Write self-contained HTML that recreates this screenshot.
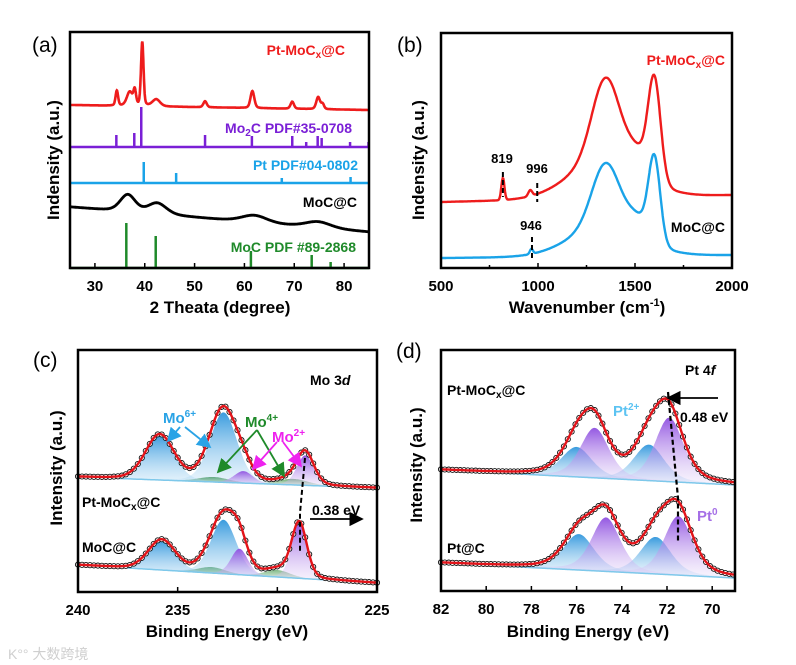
<!DOCTYPE html>
<html><head><meta charset="utf-8"><style>
html,body{margin:0;padding:0;background:#fff;}
svg{display:block;font-family:"Liberation Sans","Noto Sans CJK SC",sans-serif;}
</style></head><body>
<svg id="fig" width="796" height="665" viewBox="0 0 796 665">
<defs>
 <linearGradient id="gBlue" x1="0" y1="0" x2="0" y2="1"><stop offset="0" stop-color="#2f96dc" stop-opacity="0.95"/><stop offset="1" stop-color="#bfe1f7" stop-opacity="0.25"/></linearGradient>
 <linearGradient id="gPurp" x1="0" y1="0" x2="0" y2="1"><stop offset="0" stop-color="#8e4fe0" stop-opacity="0.95"/><stop offset="1" stop-color="#e3d3f7" stop-opacity="0.25"/></linearGradient>
 <linearGradient id="gGreen" x1="0" y1="0" x2="0" y2="1"><stop offset="0" stop-color="#2f8a3a" stop-opacity="0.95"/><stop offset="1" stop-color="#cfe8d2" stop-opacity="0.3"/></linearGradient>
 <marker id="arK" markerWidth="8" markerHeight="8" refX="7" refY="4" orient="auto"><path d="M0,0 L8,4 L0,8 z" fill="#000"/></marker>
 <marker id="arB" markerWidth="8" markerHeight="8" refX="7" refY="4" orient="auto"><path d="M0,0 L8,4 L0,8 z" fill="#2aa3e6"/></marker>
 <marker id="arG" markerWidth="8" markerHeight="8" refX="7" refY="4" orient="auto"><path d="M0,0 L8,4 L0,8 z" fill="#1f8a2a"/></marker>
 <marker id="arM" markerWidth="8" markerHeight="8" refX="7" refY="4" orient="auto"><path d="M0,0 L8,4 L0,8 z" fill="#ee22ee"/></marker>
</defs>
<g id="layer"></g>
</svg>
<script>
// ---------- Panel (a) XRD data ----------
const aTicks = [30,40,50,60,70,80];
const aRedBase = [163,158];
const aRedPeaks = [[34.4,15,0.3],[37,14,0.7],[38,14,0.3],[39.5,64,0.3],[42.3,7,0.9],[52.1,6,0.4],[61.6,17,0.45],[69.6,7,0.4],[74.8,12,0.45],[75.7,5,0.35]];
const aBlackBase = [61,36];
const aBlackPeaks = [[36.6,17,1.8],[42.5,11,2.2],[62,7,3],[74.8,6,3]];
const aMo2CPos = [34.3,37.9,39.3,52.1,61.5,69.6,72.4,74.7,75.5,81.2,84.9];
const aMo2CH = [12,14,40,12,11,11,5,11,9,5,5];
const aPtPos = [39.8,46.3,67.5,81.3];
const aPtH = [21,10,5,6];
const aMoCPos = [36.3,42.2,61.3,73.5,77.3];
const aMoCH = [45,32,17,13,6];
// ---------- Panel (b) Raman data ----------
const bTicks = [500,1000,1500,2000];
const bRedBase = [66,73];
const bRedPeaks = [[1350,80,70],[1600,98,32],[1350,40,180],[1520,20,60],[819,22,8],[960,6,10]];
const bBlueBase = [10,13];
const bBluePeaks = [[1350,62,70],[1600,82,30],[1350,31,180],[1520,18,60],[966,5,8]];
// ---------- Panel (c) Mo 3d ----------
const cTicks = [240,235,230,225];
const cTopBg = [115,104];
const cTopMo6 = [[235.9,45,0.85],[232.7,70,0.8]];
const cTopMo4 = [[233.2,5,0.9],[229.2,6,0.9]];
const cTopMo2 = [[231.7,12,0.55],[228.6,30,0.5]];
const cBotBg = [27,9];
const cBotMo6 = [[235.8,30,0.8],[232.7,54,0.75]];
const cBotMo4 = [[233.3,6,0.8],[230.0,7,0.75]];
const cBotMo2 = [[231.9,26,0.5],[228.9,55,0.45]];
// ---------- Panel (d) Pt 4f ----------
const dTicks = [82,80,78,76,74,72,70];
const dTopBg = [121,106];
const dTopPt2 = [[76.0,30,0.8],[72.8,36,0.8]];
const dTopPt0 = [[75.2,50,0.75],[71.9,64,0.75]];
const dBotBg = [28,13];
const dBotPt2 = [[75.9,36,0.8],[72.5,37,0.8]];
const dBotPt0 = [[74.7,54,0.75],[71.5,59,0.75]];

const NS = "http://www.w3.org/2000/svg";
const layer = document.getElementById('layer');
function mk(tag, attrs, parent){ const e=document.createElementNS(NS,tag); for(const k in attrs) e.setAttribute(k,attrs[k]); (parent||layer).appendChild(e); return e; }
function pv(x,c,h,g,eta){ const d=(x-c)/g; return h*(eta/(1+d*d)+(1-eta)*Math.exp(-Math.LN2*d*d)); }
function gs(x,c,h,s){ const d=(x-c)/s; return h*Math.exp(-0.5*d*d); }
function lin(x,x0,x1,v){ return v[0]+(v[1]-v[0])*(x-x0)/(x1-x0); }
function pathOf(pts){ return pts.map((p,i)=>(i?'L':'M')+p[0].toFixed(1)+','+p[1].toFixed(1)).join(''); }
function txt(x,y,s,attrs,name){ const t=mk('text',Object.assign({x:x,y:y},attrs)); t.innerHTML=s;   return t; }
function frame(x0,y0,x1,y1,name){ const r=mk('rect',{x:x0,y:y0,width:x1-x0,height:y1-y0,fill:'none',stroke:'#000','stroke-width':2.5});   }
function xTicks(ticks,xs,yb,name){ const g=mk('g',{});  
  ticks.forEach(t=>{ mk('line',{x1:xs(t),x2:xs(t),y1:yb,y2:yb-5,stroke:'#000','stroke-width':1.5},g);
    const e=mk('text',{x:xs(t),y:yb+23,'text-anchor':'middle','font-size':15,'font-weight':'bold'},g); e.textContent=t;
      }); }

// ===== Panel (a) =====
(function(){
 const X=v=>70+(v-25)/60*299, Y=v=>268-v;
 const g=mk('g',{});  
 const red=[],blk=[];
 for(let x=25;x<=85.001;x+=0.05){ let v=lin(x,25,85,aRedBase); aRedPeaks.forEach(p=>v+=pv(x,p[0],p[1],p[2],0.3)); red.push([X(x),Y(v)]);
   let w=lin(x,25,85,aBlackBase); aBlackPeaks.forEach(p=>w+=pv(x,p[0],p[1],p[2],0.3)); blk.push([X(x),Y(w)]); }
 const r=mk('path',{d:pathOf(red),fill:'none',stroke:'#ee1c1c','stroke-width':2.6},g);  
 const b=mk('path',{d:pathOf(blk),fill:'none',stroke:'#000','stroke-width':2.8},g);  
 function sticks(pos,h,base,col,name){ const l=mk('line',{x1:X(25),x2:X(85),y1:base,y2:base,stroke:col,'stroke-width':2.5},g);  
   pos.forEach((p,i)=>{ const s=mk('line',{x1:X(p),x2:X(p),y1:base,y2:base-h[i],stroke:col,'stroke-width':2.5},g);   }); }
 sticks(aMo2CPos,aMo2CH,147,'#7a1fd6','mo2c-ref');
 sticks(aPtPos,aPtH,183,'#1aa3e8','pt-ref');
 sticks(aMoCPos,aMoCH,268,'#1f8a2a','moc-ref');
 frame(70,32,369,268,'panel-a-frame');
 xTicks(aTicks,X,268,'panel-a-x-axis');
 txt(220,313,'2 Theata (degree)',{'text-anchor':'middle','font-size':17,'font-weight':'bold'},'x-axis-title-a');
 txt(59,160,'Indensity (a.u.)',{'text-anchor':'middle','font-size':17,'font-weight':'bold',transform:'rotate(-90 59 160)'},'y-axis-title-a');
 txt(32,52,'(a)',{'font-size':21},'panel-label-a');
 txt(345,55,'Pt-MoC<tspan font-size="10" dy="3">x</tspan><tspan dy="-3">@C</tspan>',{'text-anchor':'end','font-size':14,'font-weight':'bold',fill:'#ee1c1c'},'legend-pt-moc');
 txt(352,133,'Mo<tspan font-size="10" dy="3">2</tspan><tspan dy="-3">C PDF#35-0708</tspan>',{'text-anchor':'end','font-size':14,'font-weight':'bold',fill:'#7a1fd6'},'legend-mo2c-ref');
 txt(358,170,'Pt PDF#04-0802',{'text-anchor':'end','font-size':14,'font-weight':'bold',fill:'#1aa3e8'},'legend-pt-ref');
 txt(357,207,'MoC@C',{'text-anchor':'end','font-size':14,'font-weight':'bold',fill:'#000'},'legend-moc');
 txt(356,252,'MoC PDF #89-2868',{'text-anchor':'end','font-size':14,'font-weight':'bold',fill:'#1f8a2a'},'legend-moc-ref');
})();

// ===== Panel (b) =====
(function(){
 const X=v=>441+(v-500)/1500*291, Y=v=>268-v;
 const g=mk('g',{});  
 const red=[],blu=[];
 for(let x=500;x<=2000;x+=3){ let v=lin(x,500,2000,bRedBase); bRedPeaks.forEach(p=>v+=gs(x,p[0],p[1],p[2])); red.push([X(x),Y(v)]);
  let w=lin(x,500,2000,bBlueBase); bBluePeaks.forEach(p=>w+=gs(x,p[0],p[1],p[2])); blu.push([X(x),Y(w)]); }
 const r=mk('path',{d:pathOf(red),fill:'none',stroke:'#ee1c1c','stroke-width':2.4},g);  
 const b=mk('path',{d:pathOf(blu),fill:'none',stroke:'#1aa3e8','stroke-width':2.4},g);  
 [[819,172,197],[996,183,202],[969,237,260]].forEach(d=>{ const l=mk('line',{x1:X(d[0]),x2:X(d[0]),y1:d[1],y2:d[2],stroke:'#000','stroke-width':2,'stroke-dasharray':'5,3'},g);   });
 frame(441,33,732,268,'panel-b-frame');
 [750,1250,1750].forEach(t=>mk('line',{x1:X(t),x2:X(t),y1:268,y2:265,stroke:'#000','stroke-width':1.5},g));
 xTicks(bTicks,X,268,'panel-b-x-axis');
 txt(587,313,'Wavenumber (cm<tspan font-size="11" dy="-7">-1</tspan><tspan dy="7">)</tspan>',{'text-anchor':'middle','font-size':17,'font-weight':'bold'},'x-axis-title-b');
 txt(424,160,'Indensity (a.u.)',{'text-anchor':'middle','font-size':17,'font-weight':'bold',transform:'rotate(-90 424 160)'},'y-axis-title-b');
 txt(397,52,'(b)',{'font-size':21},'panel-label-b');
 txt(502,163,'819',{'text-anchor':'middle','font-size':13,'font-weight':'bold'},'label-819');
 txt(537,173,'996',{'text-anchor':'middle','font-size':13,'font-weight':'bold'},'label-996');
 txt(531,230,'946',{'text-anchor':'middle','font-size':13,'font-weight':'bold'},'label-946');
 txt(725,65,'Pt-MoC<tspan font-size="10" dy="3">x</tspan><tspan dy="-3">@C</tspan>',{'text-anchor':'end','font-size':14,'font-weight':'bold',fill:'#ee1c1c'},'legend-pt-moc-b');
 txt(725,232,'MoC@C',{'text-anchor':'end','font-size':14,'font-weight':'bold'},'legend-moc-b');
})();

// ===== XPS generic =====
function xps(g,X,Y,e0,e1,bg,groups,eta,step,name){
 const N=300, base=e=>lin(e,e0,e1,bg);
 groups.forEach(gr=>gr.peaks.forEach(p=>{ const top=[],bot=[];
   for(let i=0;i<=N;i++){ const e=e0+(e1-e0)*i/N; const b=base(e); top.push([X(e),Y(b+pv(e,p[0],p[1],p[2],eta))]); bot.push([X(e),Y(b)]); }
   const poly=mk('path',{d:pathOf(top)+'L'+bot.reverse().map(q=>q[0].toFixed(1)+','+q[1].toFixed(1)).join('L')+'Z',fill:gr.fill,stroke:'none'},g);
     }));
 const bl=[]; for(let i=0;i<=N;i++){ const e=e0+(e1-e0)*i/N; bl.push([X(e),Y(base(e))]); }
 const bll=mk('path',{d:pathOf(bl),fill:'none',stroke:'#7ec8ea','stroke-width':1.5},g);  
 const env=e=>{ let v=base(e); groups.forEach(gr=>gr.peaks.forEach(p=>v+=pv(e,p[0],p[1],p[2],eta))); return v; };
 const ep=[]; for(let i=0;i<=N;i++){ const e=e0+(e1-e0)*i/N; ep.push([X(e),Y(env(e))]); }
 const ds=mk('g',{},g);  
 const dir=e1>e0?1:-1;
 for(let e=e0; dir*(e1-e)>=0; e+=dir*step){ mk('circle',{cx:X(e).toFixed(1),cy:Y(env(e)).toFixed(1),r:2.6,fill:'#fff',stroke:'#111','stroke-width':0.9},ds); }
 const el=mk('path',{d:pathOf(ep),fill:'none',stroke:'#e3141a','stroke-width':2.4},g);  
}

// ===== Panel (c) =====
(function(){
 const X=e=>78+(240-e)/15*299, Y=v=>592-v;
 const g=mk('g',{});  
 xps(g,X,Y,240,225,cTopBg,[{name:'mo4',peaks:cTopMo4,fill:'url(#gGreen)'},{name:'mo6',peaks:cTopMo6,fill:'url(#gBlue)'},{name:'mo2',peaks:cTopMo2,fill:'url(#gPurp)'}],0.2,0.2,'pt-moc-mo3d');
 xps(g,X,Y,240,225,cBotBg,[{name:'mo4',peaks:cBotMo4,fill:'url(#gGreen)'},{name:'mo6',peaks:cBotMo6,fill:'url(#gBlue)'},{name:'mo2',peaks:cBotMo2,fill:'url(#gPurp)'}],0.2,0.2,'moc-mo3d');
 frame(78,350,377,592,'panel-c-frame');
 xTicks(cTicks,X,592,'panel-c-x-axis');
 const a=(x1,y1,x2,y2,c,m)=>{ const l=mk('line',{x1,y1,x2,y2,stroke:c,'stroke-width':1.8,'marker-end':'url(#'+m+')'},g);   };
 a(180,427,168,441,'#2aa3e6','arB'); a(185,427,210,447,'#2aa3e6','arB');
 a(257,430,218,472,'#1f8a2a','arG'); a(257,430,284,476,'#1f8a2a','arG');
 a(277,442,253,469,'#ee22ee','arM'); a(283,442,301,466,'#ee22ee','arM');
 a(310,519,362,519,'#000','arK');
 const dl=mk('path',{d:'M305,458 L300,513 L300,553',fill:'none',stroke:'#000','stroke-width':2,'stroke-dasharray':'5,3'},g);  
 txt(227,637,'Binding Energy (eV)',{'text-anchor':'middle','font-size':17,'font-weight':'bold'},'x-axis-title-c');
 txt(62,468,'Intensity (a.u.)',{'text-anchor':'middle','font-size':17,'font-weight':'bold',transform:'rotate(-90 62 468)'},'y-axis-title-c');
 txt(33,367,'(c)',{'font-size':21},'panel-label-c');
 txt(310,385,'Mo 3<tspan font-style="italic">d</tspan>',{'font-size':14,'font-weight':'bold'},'core-level-label-c');
 txt(163,423,'Mo<tspan font-size="10" dy="-6">6+</tspan>',{'font-size':15,'font-weight':'bold',fill:'#2aa3e6'},'mo6-label');
 txt(245,427,'Mo<tspan font-size="10" dy="-6">4+</tspan>',{'font-size':15,'font-weight':'bold',fill:'#1f8a2a'},'mo4-label');
 txt(272,442,'Mo<tspan font-size="10" dy="-6">2+</tspan>',{'font-size':15,'font-weight':'bold',fill:'#ee22ee'},'mo2-label');
 txt(82,507,'Pt-MoC<tspan font-size="10" dy="3">x</tspan><tspan dy="-3">@C</tspan>',{'font-size':14,'font-weight':'bold'},'sample-label-pt-moc-c');
 txt(82,552,'MoC@C',{'font-size':14,'font-weight':'bold'},'sample-label-moc-c');
 txt(312,515,'0.38 eV',{'font-size':14,'font-weight':'bold'},'shift-label-c');
})();

// ===== Panel (d) =====
(function(){
 const X=e=>441+(82-e)*22.6, Y=v=>591-v;
 const g=mk('g',{});  
 xps(g,X,Y,82,69,dTopBg,[{name:'pt2',peaks:dTopPt2,fill:'url(#gBlue)'},{name:'pt0',peaks:dTopPt0,fill:'url(#gPurp)'}],0.4,0.17,'pt-moc-pt4f');
 xps(g,X,Y,82,69,dBotBg,[{name:'pt2',peaks:dBotPt2,fill:'url(#gBlue)'},{name:'pt0',peaks:dBotPt0,fill:'url(#gPurp)'}],0.4,0.17,'pt-c-pt4f');
 frame(441,350,735,591,'panel-d-frame');
 xTicks(dTicks,X,591,'panel-d-x-axis');
 const l=mk('line',{x1:718,y1:398,x2:668,y2:398,stroke:'#000','stroke-width':1.8,'marker-end':'url(#arK)'},g);  
 const dl=mk('path',{d:'M668,392 L678,498 L678,543',fill:'none',stroke:'#000','stroke-width':2.2,'stroke-dasharray':'5,3'},g);  
 txt(588,637,'Binding Energy (eV)',{'text-anchor':'middle','font-size':17,'font-weight':'bold'},'x-axis-title-d');
 txt(422,465,'Intensity (a.u.)',{'text-anchor':'middle','font-size':17,'font-weight':'bold',transform:'rotate(-90 422 465)'},'y-axis-title-d');
 txt(396,358,'(d)',{'font-size':21},'panel-label-d');
 txt(685,375,'Pt 4<tspan font-style="italic">f</tspan>',{'font-size':14,'font-weight':'bold'},'core-level-label-d');
 txt(447,395,'Pt-MoC<tspan font-size="10" dy="3">x</tspan><tspan dy="-3">@C</tspan>',{'font-size':14,'font-weight':'bold'},'sample-label-pt-moc-d');
 txt(447,553,'Pt@C',{'font-size':14,'font-weight':'bold'},'sample-label-pt-c');
 txt(613,416,'Pt<tspan font-size="10" dy="-6">2+</tspan>',{'font-size':15,'font-weight':'bold',fill:'#5cc3f2'},'pt2-label');
 txt(697,521,'Pt<tspan font-size="10" dy="-6">0</tspan>',{'font-size':15,'font-weight':'bold',fill:'#a56fe6'},'pt0-label');
 txt(680,422,'0.48 eV',{'font-size':14,'font-weight':'bold'},'shift-label-d');
})();
txt(8,659,'K°° 大数跨境',{'font-size':14,fill:'#cfcfcf'},'watermark');
</script>
</body></html>
